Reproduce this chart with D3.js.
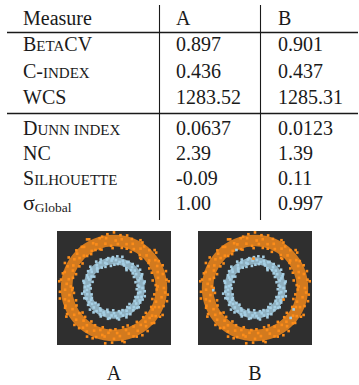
<!DOCTYPE html>
<html><head><meta charset="utf-8">
<script src="https://cdn.jsdelivr.net/npm/d3@7"></script>
<style>
html,body{margin:0;padding:0;background:#fff;}
svg{display:block;}
</style></head>
<body><svg id="c" width="359" height="385" font-family="'Liberation Serif', 'DejaVu Serif', serif"></svg>
<script>
// ---- table data ----
const columns = ["Measure", "A", "B"];
const measures = [
  [["B",0],["ETA",1],["CV",0]],
  [["C-",0],["INDEX",1]],
  [["WCS",0]],
  [["D",0],["UNN INDEX",1]],
  [["NC",0]],
  [["S",0],["ILHOUETTE",1]],
  [["σ",2],["Global",3]]
];
const valuesA = ["0.897","0.436","1283.52","0.0637","2.39","-0.09","1.00"];
const valuesB = ["0.901","0.437","1285.31","0.0123","1.39","0.11","0.997"];

// ---- scatter data (angle deg, radius; outer ring radius ~1) ----
const outerRing = [
[0,1.05],[4,0.88],[9,1.12],[13,0.95],[18,1.15],[22,0.86],[27,1.02],[31,1.10],[36,0.90],[40,1.16],[45,0.97],[49,0.84],[54,1.08],[58,1.13],[63,0.92],[67,1.01],[72,0.87],[76,1.14],[81,1.04],[85,0.93],[90,1.17],[94,0.89],[99,1.06],[103,1.11],[108,0.85],[112,0.99],[117,1.15],[121,0.91],[126,1.07],[130,0.88],[135,1.12],[139,0.96],[144,1.03],[148,0.86],[153,1.16],[157,0.94],[162,1.09],[166,0.89],[171,1.13],[175,1.00],[180,0.87],[184,1.14],[189,0.95],[193,1.06],[198,0.84],[202,1.11],[207,0.98],[211,1.17],[216,0.90],[220,1.04],[225,0.86],[229,1.12],[234,0.97],[238,1.08],[243,0.88],[247,1.15],[252,0.93],[256,1.02],[261,1.18],[265,0.89],[270,1.07],[274,0.95],[279,1.13],[283,0.85],[288,1.01],[292,1.10],[297,0.91],[301,1.16],[306,0.96],[310,1.05],[315,0.87],[319,1.12],[324,0.99],[328,1.14],[333,0.88],[337,1.03],[342,0.93],[346,1.15],[351,0.86],[355,1.08],
[2,0.92],[7,1.16],[11,0.83],[16,1.07],[20,0.98],[25,1.13],[29,0.85],[34,1.05],[38,0.94],[43,1.17],[47,1.09],[52,0.88],[56,1.00],[61,1.15],[65,0.84],[70,1.10],[74,0.96],[79,0.86],[83,1.12],[88,1.00],[92,0.84],[97,1.14],[101,0.95],[106,1.09],[110,0.87],[115,1.04],[119,1.17],[124,0.86],[128,1.10],[133,0.93],[137,1.06],[142,0.84],[146,1.15],[151,0.98],[155,1.08],[160,0.85],[164,1.12],[169,0.97],[173,1.16],[178,0.91],[182,1.03],[187,0.85],[191,1.16],[196,0.99],[200,1.09],[205,0.87],[209,1.13],[214,1.01],[218,0.84],[223,1.14],[227,0.94],[232,1.06],[236,0.85],[241,1.17],[245,0.99],[250,1.10],[254,0.86],[259,1.04],[263,0.95],[268,1.15],[272,0.87],[277,1.02],[281,1.16],[286,0.92],[290,0.84],[295,1.13],[299,1.03],[304,0.86],[308,1.15],[313,0.97],[317,1.09],[322,0.85],[326,1.06],[331,1.17],[335,0.95],[340,1.11],[344,0.84],[349,1.02],[353,1.14],[358,0.90]
];
const innerRing = [
[0,0.60],[6,0.50],[12,0.66],[17,0.54],[23,0.63],[29,0.48],[35,0.67],[40,0.57],[46,0.52],[52,0.64],[58,0.49],[63,0.61],[69,0.55],[75,0.68],[81,0.51],[86,0.59],[92,0.65],[98,0.47],[104,0.62],[109,0.56],[115,0.66],[121,0.50],[127,0.60],[132,0.53],[138,0.67],[144,0.58],[150,0.48],[155,0.63],[161,0.55],[167,0.66],[173,0.51],[178,0.61],[184,0.57],[190,0.68],[196,0.49],[201,0.62],[207,0.54],[213,0.65],[219,0.50],[224,0.59],[230,0.67],[236,0.52],[242,0.63],[247,0.56],[253,0.48],[259,0.66],[265,0.58],[270,0.53],[276,0.64],[282,0.50],[288,0.61],[293,0.67],[299,0.55],[305,0.49],[311,0.62],[316,0.58],[322,0.66],[328,0.51],[334,0.60],[339,0.54],[345,0.67],[351,0.56],[357,0.48],
[3,0.53],[9,0.64],[15,0.47],[20,0.59],[26,0.66],[32,0.55],[38,0.50],[43,0.68],[49,0.58],[55,0.46],[61,0.63],[66,0.52],[72,0.60],[78,0.56],[84,0.67],[89,0.49],[95,0.58],[101,0.64],[107,0.53],[112,0.48],[118,0.61],[124,0.67],[130,0.55],[135,0.49],[141,0.62],[147,0.65],[153,0.53],[158,0.59],[164,0.47],[170,0.64],[176,0.55],[181,0.49],[187,0.63],[193,0.58],[199,0.66],[204,0.51],[210,0.60],[216,0.57],[222,0.68],[227,0.48],[233,0.61],[239,0.55],[245,0.66],[250,0.60],[256,0.52],[262,0.64],[268,0.47],[273,0.59],[279,0.67],[285,0.55],[291,0.50],[296,0.62],[302,0.65],[308,0.53],[314,0.47],[319,0.64],[325,0.57],[331,0.63],[337,0.49],[342,0.61],[348,0.52],[354,0.65]
];
const outerBand = [0.88, 1.12];
const innerBand = [0.5, 0.645];
const mixedPts = [[183,0.88],[331,0.93],[320,0.98],[116,0.89],[47,0.84],[338,0.65],[93,0.62]];
const mixedLabelA = ["o","o","o","o","o","b","b"];
const mixedLabelB = ["b","b","b","b","o","o","o"];
const panelNames = ["A","B"];

const svg = d3.select("#c");
const ink = "#1a1a1a";
const serif = "'Liberation Serif', 'DejaVu Serif', serif";

// ---- table ----
const colX = d3.scaleOrdinal().domain(columns).range([23, 176, 278]);
const rowY = d3.scaleOrdinal().domain(d3.range(-1, 7)).range([24.5, 51, 77.5, 103.5, 135, 160, 185, 209.5]);

svg.append("line").attr("x1",7).attr("x2",358).attr("y1",32.5).attr("y2",32.5).attr("stroke",ink).attr("stroke-width",1.3);
svg.append("line").attr("x1",7).attr("x2",358).attr("y1",113.5).attr("y2",113.5).attr("stroke",ink).attr("stroke-width",1.3);
[159.5, 260.5].forEach(x=>svg.append("line").attr("x1",x).attr("x2",x).attr("y1",5).attr("y2",220).attr("stroke",ink).attr("stroke-width",1.1));

const txt = (x,y,size,s) => svg.append("text").attr("x",x).attr("y",y).attr("font-size",size)
  .attr("font-family",serif).attr("fill",ink).text(s);

columns.forEach(c=>txt(colX(c), rowY(-1), 20, c));

const sizes = [20, 15, 22, 13.5];
measures.forEach((parts,i)=>{
  const t = txt(colX("Measure"), rowY(i), 20, null);
  parts.forEach(([s,k])=>{
    const ts = t.append("tspan").attr("font-size",sizes[k]).text(s);
    if(k===3) ts.attr("dy",2);
  });
  txt(colX("A"), rowY(i), 20, valuesA[i]);
  txt(colX("B"), rowY(i), 20, valuesB[i]);
});

// ---- scatter panels ----
const panelX = d3.scaleOrdinal().domain(panelNames).range([57, 198]);
const boxSize = 114, boxTop = 231;
const orange = "#fd8d1a", blue = "#a6cfe4";
const toXY = ([a,r]) => [r*Math.cos(a*Math.PI/180), r*Math.sin(a*Math.PI/180)];

panelNames.forEach((p,pi)=>{
  const x0 = panelX(p);
  const x = d3.scaleLinear().domain([-1.2,1.2]).range([x0, x0+boxSize]);
  const y = d3.scaleLinear().domain([1.2,-1.2]).range([boxTop, boxTop+boxSize]);
  const g = svg.append("g");
  g.append("rect").attr("x",x0).attr("y",boxTop).attr("width",boxSize).attr("height",boxSize).attr("fill","#2f2f2f");
  const k = x(1)-x(0);
  const arc = d3.arc().startAngle(0).endAngle(2*Math.PI);
  g.append("path").attr("transform",`translate(${x(0)},${y(0)})`)
    .attr("d",arc({innerRadius:outerBand[0]*k, outerRadius:outerBand[1]*k})).attr("fill",orange).attr("opacity",0.8);
  g.append("path").attr("transform",`translate(${x(0)},${y(0)})`)
    .attr("d",arc({innerRadius:innerBand[0]*k, outerRadius:innerBand[1]*k})).attr("fill",blue).attr("opacity",0.8);
  const s = 2.6;
  const draw = (pts, col) => g.append("g").selectAll("rect").data(pts).join("rect")
    .attr("x",d=>x(toXY(d)[0])-s/2).attr("y",d=>y(toXY(d)[1])-s/2).attr("width",s).attr("height",s).attr("fill",col);
  draw(outerRing, orange);
  draw(innerRing, blue);
  const labs = pi===0 ? mixedLabelA : mixedLabelB;
  g.append("g").selectAll("rect").data(mixedPts).join("rect")
    .attr("x",d=>x(toXY(d)[0])-s/2).attr("y",d=>y(toXY(d)[1])-s/2).attr("width",s).attr("height",s)
    .attr("fill",(d,i)=>labs[i]==="o"?orange:blue);
  txt(x(0), 380, 20, p).attr("text-anchor","middle");
});
</script></body></html>
